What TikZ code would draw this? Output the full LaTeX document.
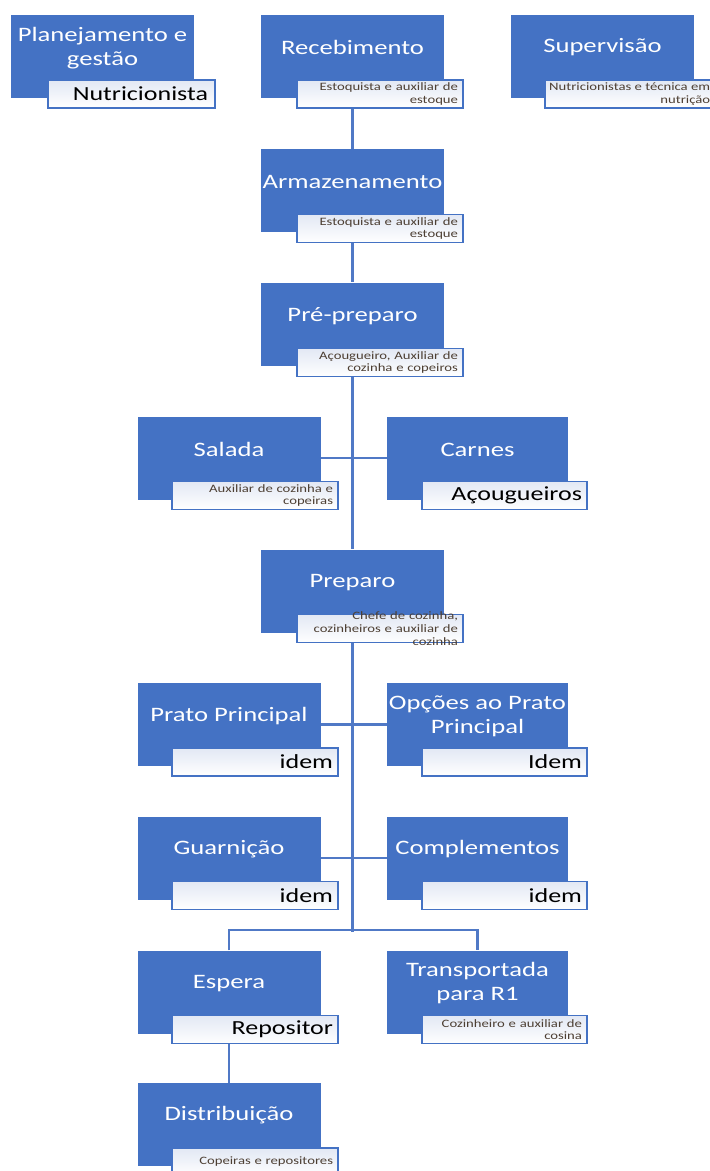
\documentclass[tikz,border=0pt]{standalone}
\usepackage{fontspec}
\setmainfont{Carlito}[FakeStretch=1.3]
\usetikzlibrary{backgrounds}
\definecolor{boxblue}{HTML}{4472C4}
\definecolor{linkblue}{HTML}{5079C6}
\definecolor{subtop}{HTML}{E2E8F4}
\definecolor{smallcol}{HTML}{4D3F33}
\newcommand{\titlefont}{\fontsize{20.5}{24}\selectfont}
\newcommand{\bigsubfont}{\fontsize{20}{22}\selectfont}
\newcommand{\smallsubfont}{\fontsize{11.3}{12.7}\selectfont}
\tikzset{
  bluebox/.style={fill=boxblue, draw=none, minimum width=183, minimum height=83, inner sep=0},
  titletext/.style={text=white, font=\titlefont, align=center, inner sep=0},
  subbox/.style={draw=boxblue, line width=1.5pt, top color=subtop, bottom color=white,
     minimum width=166, minimum height=28, inner xsep=5, inner ysep=0, text width=156, align=right},
  smalltext/.style={font=\smallsubfont, text=smallcol},
  bigtext/.style={font=\bigsubfont, text=black},
  link/.style={draw=linkblue, line width=2.3pt}
}
\begin{document}
\begin{tikzpicture}[x=1pt,y=-1pt]
\useasboundingbox (0,0) rectangle (710,1171);
\clip (0,0) rectangle (710,1171);
% blue boxes
\node[bluebox] (plan) at (102.5,56.5) {};
\node[bluebox] (rec) at (352.5,56.5) {};
\node[bluebox] (sup) at (602.5,56.5) {};
\node[bluebox] (arm) at (352.5,190.5) {};
\node[bluebox] (pre) at (352.5,324) {};
\node[bluebox] (sal) at (229,458) {};
\node[bluebox, minimum width=181] (car) at (477.5,458) {};
\node[bluebox] (prep) at (352.5,591) {};
\node[bluebox] (prato) at (229,724.5) {};
\node[bluebox, minimum width=181] (opc) at (477.5,724.5) {};
\node[bluebox] (guar) at (229,858) {};
\node[bluebox, minimum width=181] (comp) at (477.5,858) {};
\node[bluebox] (esp) at (229,992) {};
\node[bluebox, minimum width=181] (trans) at (477.5,992) {};
\node[bluebox] (dist) at (229,1124.5) {};
% titles
\node[titletext] (planT) at (102.5,48) {Planejamento e\\gestão};
\node[titletext] (recT) at (352.5,47.5) {Recebimento};
\node[titletext] (supT) at (602.5,47.5) {Supervisão};
\node[titletext] (armT) at (352.5,182) {Armazenamento};
\node[titletext] (preT) at (352.5,316) {Pré-preparo};
\node[titletext] (salT) at (229,449.5) {Salada};
\node[titletext] (carT) at (477.5,449.5) {Carnes};
\node[titletext] (prepT) at (352.5,582.5) {Preparo};
\node[titletext] (pratoT) at (229,716) {Prato Principal};
\node[titletext] (opcT) at (477.5,716) {Opções ao Prato\\Principal};
\node[titletext] (guarT) at (229,849.5) {Guarnição};
\node[titletext] (compT) at (477.5,849.5) {Complementos};
\node[titletext] (espT) at (229,983.5) {Espera};
\node[titletext] (transT) at (477.5,983.5) {Transportada\\para R1};
\node[titletext] (distT) at (229,1115.5) {Distribuição};
% sub boxes
\node[subbox, bigtext, minimum width=167, text width=153] (planS) at (131.5,94) {Nutricionista};
\node[subbox, smalltext] (recS) at (380,94) {Estoquista e auxiliar de\\estoque};
\node[subbox] (supS) at (628,94) {};
\node[smalltext, align=right, inner sep=0, anchor=west] (supST) at (549,94) {Nutricionistas e técnica em\\nutrição};
\node[subbox, smalltext] (armS) at (380,228.5) {Estoquista e auxiliar de\\estoque};
\node[subbox, smalltext] (preS) at (380,362.5) {Açougueiro, Auxiliar de\\cozinha e copeiros};
\node[subbox, smalltext] (salS) at (255,495.5) {Auxiliar de cozinha e\\copeiras};
\node[subbox, bigtext, minimum width=165, text width=155] (carS) at (504.5,495.5) {Açougueiros};
\node[subbox] (prepS) at (380,628.5) {};
\node[smalltext, text width=156, align=right, inner sep=0] (prepST) at (prepS.center) {Chefe de cozinha,\\cozinheiros e auxiliar de\\cozinha};
\node[subbox, bigtext] (pratoS) at (255,762) {idem};
\node[subbox, bigtext, minimum width=165, text width=155] (opcS) at (504.5,762) {Idem};
\node[subbox, bigtext] (guarS) at (255,895.5) {idem};
\node[subbox, bigtext, minimum width=165, text width=155] (compS) at (504.5,895.5) {idem};
\node[subbox, bigtext] (espS) at (255,1029.5) {Repositor};
\node[subbox, smalltext, minimum width=165, text width=155] (transS) at (504.5,1029.5) {Cozinheiro e auxiliar de\\cosina};
\node[subbox, smalltext] (distS) at (255,1162) {Copeiras e repositores};
% connectors
\begin{scope}[on background layer]
\draw[link] (rec.south) -- (arm.north);
\draw[link] (arm.south) -- (pre.north);
\draw[link] (pre.south) -- (prep.north);
\draw[link] (sal.east) -- (car.west);
\draw[link] (prep.south) -- ++(0,299);
\draw[link] (prato.east) -- (opc.west);
\draw[link] (guar.east) -- (comp.west);
\draw[link] (esp.north) -- ++(0,-20) -| (trans.north);
\draw[link] (esp.south) -- (dist.north);
\end{scope}
\end{tikzpicture}
\end{document}
